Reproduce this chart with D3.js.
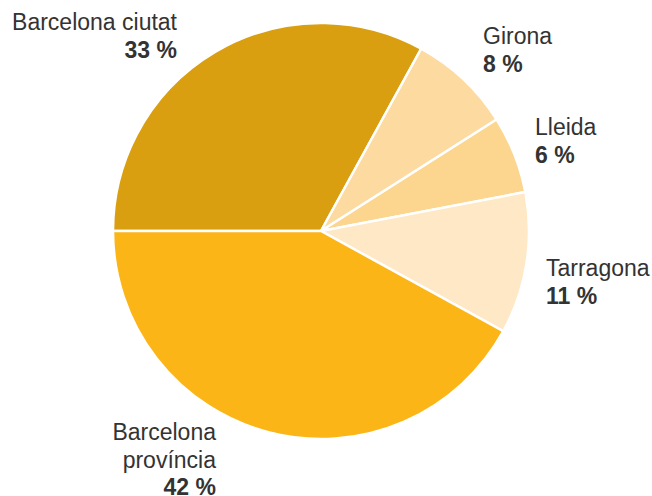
<!DOCTYPE html>
<html><head><meta charset="utf-8">
<script src="https://cdn.jsdelivr.net/npm/d3@7"></script>
<style>body{margin:0;background:#fff}svg{display:block}</style>
</head><body>
<script>
const categories = ["Barcelona ciutat", "Girona", "Lleida", "Tarragona", "Barcelona província"];
const values = [33, 8, 6, 11, 42];
const valueLabels = ["33 %", "8 %", "6 %", "11 %", "42 %"];
const colors = ["#D99F10", "#FDDAA0", "#FCD58E", "#FEE8C5", "#FBB516"];

const W = 652, H = 496, cx = 321, cy = 231, R = 208;
const svg = d3.select("body").append("svg").attr("width", W).attr("height", H);
const g = svg.append("g").attr("transform", `translate(${cx},${cy})`);
const pie = d3.pie().sort(null).value(d => d).startAngle(-Math.PI/2).endAngle(1.5*Math.PI);
const arc = d3.arc().innerRadius(0).outerRadius(R);
const color = d3.scaleOrdinal().domain(categories).range(colors);
const arcs = pie(values);
g.selectAll("path").data(arcs).enter().append("path")
  .attr("d", arc).attr("fill", (d,i) => color(categories[i]))
  .attr("stroke", "#fff").attr("stroke-width", 2.5).attr("stroke-linejoin", "miter");

const labelPos = [
  {x: 177, y: 30, anchor: "end", lines: ["Barcelona ciutat"]},
  {x: 483, y: 44, anchor: "start", lines: ["Girona"]},
  {x: 535, y: 135, anchor: "start", lines: ["Lleida"]},
  {x: 546, y: 276, anchor: "start", lines: ["Tarragona"]},
  {x: 216, y: 440, anchor: "end", lines: ["Barcelona", "província"]}
];
const lh = 27.5;
categories.forEach((c, i) => {
  const p = labelPos[i];
  const t = svg.append("text").attr("x", p.x).attr("y", p.y)
    .attr("text-anchor", p.anchor)
    .attr("font-family", "'Liberation Sans', Arial, sans-serif")
    .attr("font-size", 23).attr("fill", "#333");
  p.lines.forEach((l, k) => {
    t.append("tspan").attr("x", p.x).attr("y", p.y + k*lh).text(l);
  });
  t.append("tspan").attr("x", p.x).attr("y", p.y + p.lines.length*lh)
    .attr("font-weight", "bold").text(valueLabels[i]);
});
</script>
</body></html>
